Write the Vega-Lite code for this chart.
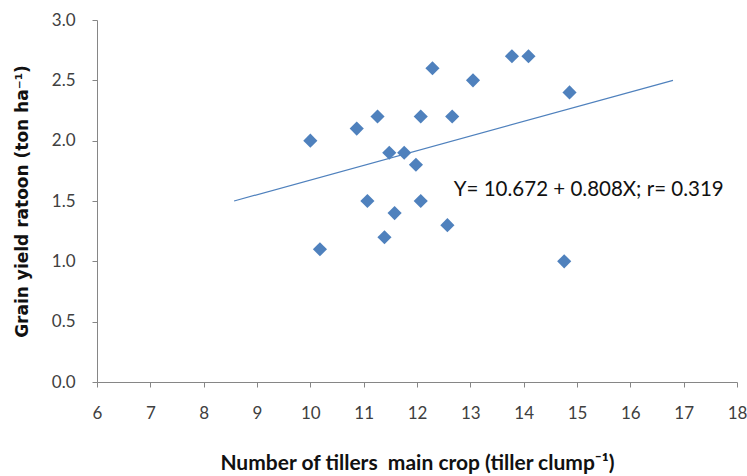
{
  "$schema": "https://vega.github.io/schema/vega-lite/v6.json",
  "width": 640,
  "height": 362,
  "autosize": {"type": "none"},
  "padding": {"left": 97, "top": 20, "right": 10, "bottom": 94},
  "background": "white",
  "config": {
    "view": {"stroke": null},
    "font": "Lato",
    "axis": {"grid": false, "domainColor": "#868686", "tickColor": "#868686", "tickSize": 5, "labelColor": "#404040", "labelFont": "Lato", "labelFontSize": 17, "titleColor": "#111111", "titleFontWeight": "bold"}
  },
  "datasets": {
    "pts": [
      {"tillers": 10.0, "yield": 2.0},
      {"tillers": 10.18, "yield": 1.1},
      {"tillers": 10.87, "yield": 2.1},
      {"tillers": 11.26, "yield": 2.2},
      {"tillers": 11.07, "yield": 1.5},
      {"tillers": 11.48, "yield": 1.9},
      {"tillers": 11.76, "yield": 1.9},
      {"tillers": 11.98, "yield": 1.8},
      {"tillers": 12.07, "yield": 2.2},
      {"tillers": 12.07, "yield": 1.5},
      {"tillers": 11.58, "yield": 1.4},
      {"tillers": 11.39, "yield": 1.2},
      {"tillers": 12.29, "yield": 2.6},
      {"tillers": 12.66, "yield": 2.2},
      {"tillers": 12.57, "yield": 1.3},
      {"tillers": 13.05, "yield": 2.5},
      {"tillers": 13.78, "yield": 2.7},
      {"tillers": 14.09, "yield": 2.7},
      {"tillers": 14.86, "yield": 2.4},
      {"tillers": 14.76, "yield": 1.0}
    ],
    "fit": [
      {"tillers": 8.57, "yield": 1.5},
      {"tillers": 16.8, "yield": 2.5}
    ],
    "note": [
      {"tillers": 12.69, "yield": 1.541, "label": "Y= 10.672 + 0.808X; r= 0.319"}
    ]
  },
  "layer": [
    {
      "data": {"name": "fit"},
      "mark": {"type": "line", "color": "#4F81BD", "strokeWidth": 1.2},
      "encoding": {
        "x": {"field": "tillers", "type": "quantitative", "scale": {"domain": [6, 18], "nice": false, "zero": false},
          "axis": {"values": [6,7,8,9,10,11,12,13,14,15,16,17,18], "labelPadding": 18, "titlePadding": 31, "title": "Number of tillers\u00a0 main crop (tiller clump⁻¹)", "titleFont": "Lato", "titleFontSize": 21, "labelFlush": false}},
        "y": {"field": "yield", "type": "quantitative", "scale": {"domain": [0, 3], "nice": false},
          "axis": {"values": [0, 0.5, 1, 1.5, 2, 2.5, 3], "format": ".1f", "labelPadding": 17, "titlePadding": 20, "title": "Grain yield ratoon (ton ha⁻¹)", "titleFont": "DejaVu Sans", "titleFontSize": 17, "labelFlush": false}}
      }
    },
    {
      "data": {"name": "pts"},
      "mark": {"type": "point", "shape": "diamond", "filled": true, "color": "#4F81BD", "opacity": 1, "size": 200},
      "encoding": {
        "x": {"field": "tillers", "type": "quantitative"},
        "y": {"field": "yield", "type": "quantitative"}
      }
    },
    {
      "data": {"name": "note"},
      "mark": {"type": "text", "align": "left", "baseline": "alphabetic", "fontSize": 20.5, "font": "Lato", "color": "#111111"},
      "encoding": {
        "x": {"field": "tillers", "type": "quantitative"},
        "y": {"field": "yield", "type": "quantitative"},
        "text": {"field": "label"}
      }
    }
  ]
}
